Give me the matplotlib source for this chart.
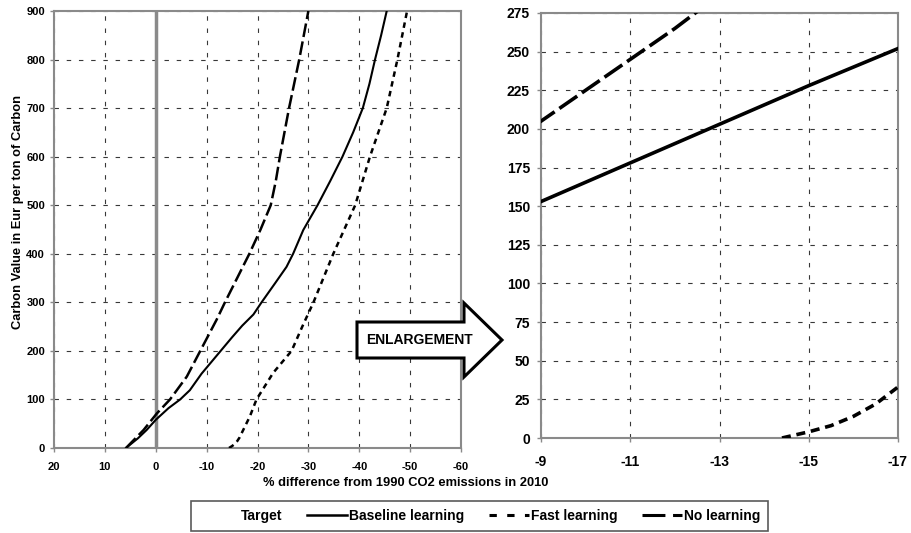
import matplotlib
matplotlib.use("Agg")
import matplotlib.pyplot as plt
from matplotlib.patches import Polygon
from matplotlib.lines import Line2D

plt.rcParams['font.family'] = ['Liberation Sans', 'DejaVu Sans']
plt.rcParams['font.weight'] = 'bold'
plt.rcParams['axes.unicode_minus'] = False

# ---- data (x: % difference from 1990 CO2 emissions, y: carbon value) ----
baseline_x = [5.85, 3.5, 1.8, 0.0, -2.5, -4.8, -6.7, -9.0, -11.0, -13.0, -15.0, -17.0,
              -19.2, -20.8, -23.5, -25.7, -27.0, -29.0, -31.8, -34.3, -36.7, -38.8,
              -40.7, -42.0, -43.1, -44.3, -45.4]
baseline_y = [0, 20, 37, 58, 82, 100, 119, 153, 178, 203, 228, 252,
              275, 300, 340, 373, 400, 449, 500, 550, 600, 650,
              700, 750, 800, 850, 900]

nolearn_x = [5.85, 2.4, -0.2, -2.8, -6.1, -9.0, -10.0, -11.0, -12.0, -13.6, -16.0, -18.4,
             -20.6, -22.6, -23.6, -24.4, -25.3, -26.2, -27.2, -28.2, -29.1, -30.0]
nolearn_y = [0, 37, 71, 100, 147, 205, 225, 245, 265, 300, 350, 400,
             450, 500, 550, 600, 650, 700, 750, 800, 850, 900]

fast_x = [-14.4, -15.0, -15.5, -16.0, -16.5, -17.0, -18.5, -19.8, -23.1, -26.7, -28.8,
          -31.0, -34.9, -39.2, -42.1, -45.4, -47.5, -49.4]
fast_y = [0, 4, 8, 14, 22, 33, 65, 100, 155, 200, 250,
          300, 400, 500, 600, 700, 800, 900]

target_x = 0

left_xticks = [20, 10, 0, -10, -20, -30, -40, -50, -60]
left_yticks = [0, 100, 200, 300, 400, 500, 600, 700, 800, 900]
right_xticks = [-9, -11, -13, -15, -17]
right_yticks = [0, 25, 50, 75, 100, 125, 150, 175, 200, 225, 250, 275]

W, H = 911, 533
fig = plt.figure(figsize=(W / 100, H / 100), dpi=100)

ax1 = fig.add_axes([54 / W, 1 - 448 / H, (461 - 54) / W, (448 - 11) / H])
ax2 = fig.add_axes([541 / W, 1 - 438 / H, (898 - 541) / W, (438 - 13) / H])

grid_kw = dict(color='#383838', linewidth=0.8, linestyle=(0, (4, 7)))
spine_col = '#8a8a8a'

for ax in (ax1, ax2):
    for s in ax.spines.values():
        s.set_color(spine_col)
        s.set_linewidth(1.5)
    ax.tick_params(colors=spine_col, length=3, width=1, labelcolor='black')
    ax.grid(True, **grid_kw)
    ax.set_axisbelow(True)

# left plot
ax1.axvline(target_x, color='#8a8a8a', linewidth=2.5, zorder=2)
ax1.plot(baseline_x, baseline_y, color='black', linewidth=1.5, zorder=3)
ax1.plot(fast_x, fast_y, color='black', linewidth=1.8, linestyle=(0, (2.2, 1.8)), zorder=3)
ax1.plot(nolearn_x, nolearn_y, color='black', linewidth=1.8, linestyle=(0, (5.5, 1.8)), zorder=3)
ax1.set_xlim(20, -60)
ax1.set_ylim(0, 900)
ax1.set_xticks(left_xticks)
ax1.set_yticks(left_yticks)
ax1.tick_params(axis='x', labelsize=8, pad=7)
ax1.tick_params(axis='y', labelsize=8, pad=3.5)
for lab in ax1.get_xticklabels() + ax1.get_yticklabels():
    lab.set_fontweight('bold')

# right plot
ax2.plot(baseline_x, baseline_y, color='black', linewidth=2.6, zorder=3)
ax2.plot(fast_x, fast_y, color='black', linewidth=2.6, linestyle=(0, (2.5, 1.6)), zorder=3)
ax2.plot(nolearn_x, nolearn_y, color='black', linewidth=2.6, linestyle=(0, (6, 1.6)), zorder=3)
ax2.set_xlim(-9, -17)
ax2.set_ylim(0, 275)
ax2.set_xticks(right_xticks)
ax2.set_yticks(right_yticks)
ax2.tick_params(axis='x', labelsize=10, pad=9)
ax2.tick_params(axis='y', labelsize=10, pad=5)
for lab in ax2.get_xticklabels() + ax2.get_yticklabels():
    lab.set_fontweight('bold')

fig.text(18 / W, 1 - 212 / H, 'Carbon Value in Eur per ton of Carbon', rotation=90,
         ha='center', va='center', fontsize=9.3, fontweight='bold')
fig.text(406 / W, 1 - 483 / H, '% difference from 1990 CO2 emissions in 2010',
         ha='center', va='center', fontsize=9.3, fontweight='bold')

# Enlargement arrow (annotation shape in pixel coords)
pts = [(357, 322), (464, 322), (464, 303), (502, 340), (464, 377), (464, 358), (357, 358)]
arrow = Polygon([(x / W, 1 - y / H) for x, y in pts], closed=True, transform=fig.transFigure,
                facecolor='white', edgecolor='black', linewidth=2.2, zorder=10)
fig.add_artist(arrow)
fig.text(419 / W, 1 - 340 / H, 'ENLARGEMENT', ha='center', va='center', fontsize=10,
         fontweight='bold', zorder=11)

# legend
handles = [
    Line2D([], [], color='none', linewidth=2),
    Line2D([], [], color='black', linewidth=1.8),
    Line2D([], [], color='black', linewidth=2.2, linestyle=(0, (2.4, 3.4))),
    Line2D([], [], color='black', linewidth=2.2, linestyle=(0, (7.5, 2.5))),
]
labels = ['Target', 'Baseline learning', 'Fast learning', 'No learning']
leg = fig.legend(handles, labels, loc='center', bbox_to_anchor=(479.5 / W, 1 - 516 / H),
                 ncol=4, frameon=True, fancybox=False, shadow=False,
                 prop={'weight': 'bold', 'size': 10}, handlelength=2.9, handletextpad=0.1,
                 columnspacing=1.8, borderpad=0.55)
leg.get_frame().set_edgecolor('#303030')
leg.get_frame().set_linewidth(1.2)

fig.savefig('out.png', dpi=100)
